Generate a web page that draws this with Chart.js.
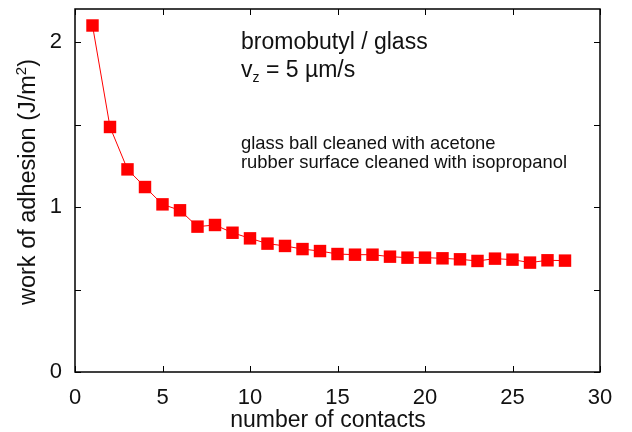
<!DOCTYPE html>
<html>
<head>
<meta charset="utf-8">
<script src="https://cdn.jsdelivr.net/npm/chart.js@4.4.0/dist/chart.umd.min.js"></script>
<style>
  html, body { margin: 0; padding: 0; background: #fff; }
  #wrap { width: 632px; height: 432px; }
</style>
</head>
<body>
<div id="wrap"><canvas id="c" width="632" height="432"></canvas></div>
<script>
// data
const contacts = [1, 2, 3, 4, 5, 6, 7, 8, 9, 10, 11, 12, 13, 14, 15, 16, 17, 18, 19, 20, 21, 22, 23, 24, 25, 26, 27, 28];
const adhesion = [2.10, 1.485, 1.228, 1.121, 1.016, 0.980, 0.881, 0.891, 0.844, 0.810, 0.778, 0.764, 0.745, 0.733,
                  0.715, 0.711, 0.711, 0.699, 0.693, 0.693, 0.689, 0.683, 0.673, 0.687, 0.681, 0.663, 0.677, 0.675];
const xTicks = [0, 5, 10, 15, 20, 25, 30];
const yTicks = [0, 0.5, 1, 1.5, 2];
const yLabels = [0, 1, 2];

const FONT = '"Liberation Sans", Arial, sans-serif';
const RED = '#ff0000';
const INK = '#111';
const TICK_LEN = 6;

// draws text pieces one after another: [text, fontSize, raise]
function drawRuns(ctx, runs, x, y, centred) {
  let total = 0;
  runs.forEach(r => { ctx.font = r[1] + 'px ' + FONT; total += ctx.measureText(r[0]).width; });
  let cx = centred ? x - total / 2 : x;
  ctx.textAlign = 'left';
  runs.forEach(r => {
    ctx.font = r[1] + 'px ' + FONT;
    ctx.fillText(r[0], cx, y - r[2]);
    cx += ctx.measureText(r[0]).width;
  });
}

// frame, inward ticks, axis titles and annotations
const framePlugin = {
  id: 'frame',
  afterDraw(chart) {
    const { ctx, chartArea: a, scales } = chart;
    ctx.save();
    ctx.strokeStyle = '#000';
    ctx.lineWidth = 1.5;
    ctx.strokeRect(a.left, a.top, a.right - a.left, a.bottom - a.top);

    ctx.lineWidth = 1;
    ctx.beginPath();
    xTicks.forEach(v => {
      const px = Math.round(scales.x.getPixelForValue(v)) + 0.5;
      ctx.moveTo(px, a.bottom); ctx.lineTo(px, a.bottom - TICK_LEN);
      ctx.moveTo(px, a.top); ctx.lineTo(px, a.top + TICK_LEN);
    });
    yTicks.forEach(v => {
      const py = Math.round(scales.y.getPixelForValue(v)) + 0.5;
      ctx.moveTo(a.left, py); ctx.lineTo(a.left + TICK_LEN, py);
      ctx.moveTo(a.right, py); ctx.lineTo(a.right - TICK_LEN, py);
    });
    ctx.stroke();

    ctx.fillStyle = INK;
    ctx.textBaseline = 'alphabetic';

    // x axis title (sits a little left of centre in the original)
    ctx.textAlign = 'center';
    ctx.font = '23px ' + FONT;
    ctx.fillText('number of contacts', 328, 427);

    // y axis title, rotated, with a real superscript
    ctx.save();
    ctx.translate(35, 182);
    ctx.rotate(-Math.PI / 2);
    drawRuns(ctx, [['work of adhesion (J/m', 23.5, 0], ['2', 15, 9.5], [')', 23.5, 0]], 0, 0, true);
    ctx.restore();

    // annotations
    ctx.textAlign = 'left';
    ctx.font = '23px ' + FONT;
    ctx.fillText('bromobutyl / glass', 241, 49);
    drawRuns(ctx, [['v', 23, 0], ['z', 14, -5], [' = 5 \u00b5m/s', 23, 0]], 241, 77, false);

    ctx.font = '18.4px ' + FONT;
    ctx.fillText('glass ball cleaned with acetone', 241, 149);
    ctx.fillText('rubber surface cleaned with isopropanol', 241, 168);
    ctx.restore();
  }
};

const points = contacts.map((x, i) => ({ x: x, y: adhesion[i] }));

new Chart(document.getElementById('c'), {
  type: 'scatter',
  data: {
    datasets: [{
      data: points,
      showLine: true,
      borderColor: RED,
      borderWidth: 1,
      backgroundColor: RED,
      pointStyle: 'rect',
      pointRadius: 8.8,
      pointBorderWidth: 0,
      pointBorderColor: RED,
      pointHoverRadius: 8.8
    }]
  },
  options: {
    responsive: false,
    animation: false,
    events: [],
    layout: { padding: { top: 9, right: 32, left: 0, bottom: 0 } },
    plugins: { legend: { display: false }, tooltip: { enabled: false } },
    scales: {
      x: {
        type: 'linear', min: 0, max: 30,
        grid: { display: false, drawTicks: false },
        border: { display: false },
        ticks: { stepSize: 5, color: INK, font: { family: FONT, size: 22 }, padding: 13, maxRotation: 0 },
        title: { display: false },
        afterFit(s) { s.height = 60; s.paddingLeft = 0; s.paddingRight = 0; }
      },
      y: {
        type: 'linear', min: 0, max: 2.2,
        grid: { display: false, drawTicks: false },
        border: { display: false },
        ticks: {
          stepSize: 0.5, color: INK, font: { family: FONT, size: 22 }, padding: 13,
          callback: v => (yLabels.includes(v) ? String(v) : '')
        },
        title: { display: false },
        afterFit(s) { s.width = 75; s.paddingTop = 0; s.paddingBottom = 0; }
      }
    }
  },
  plugins: [framePlugin]
});
</script>
</body>
</html>
